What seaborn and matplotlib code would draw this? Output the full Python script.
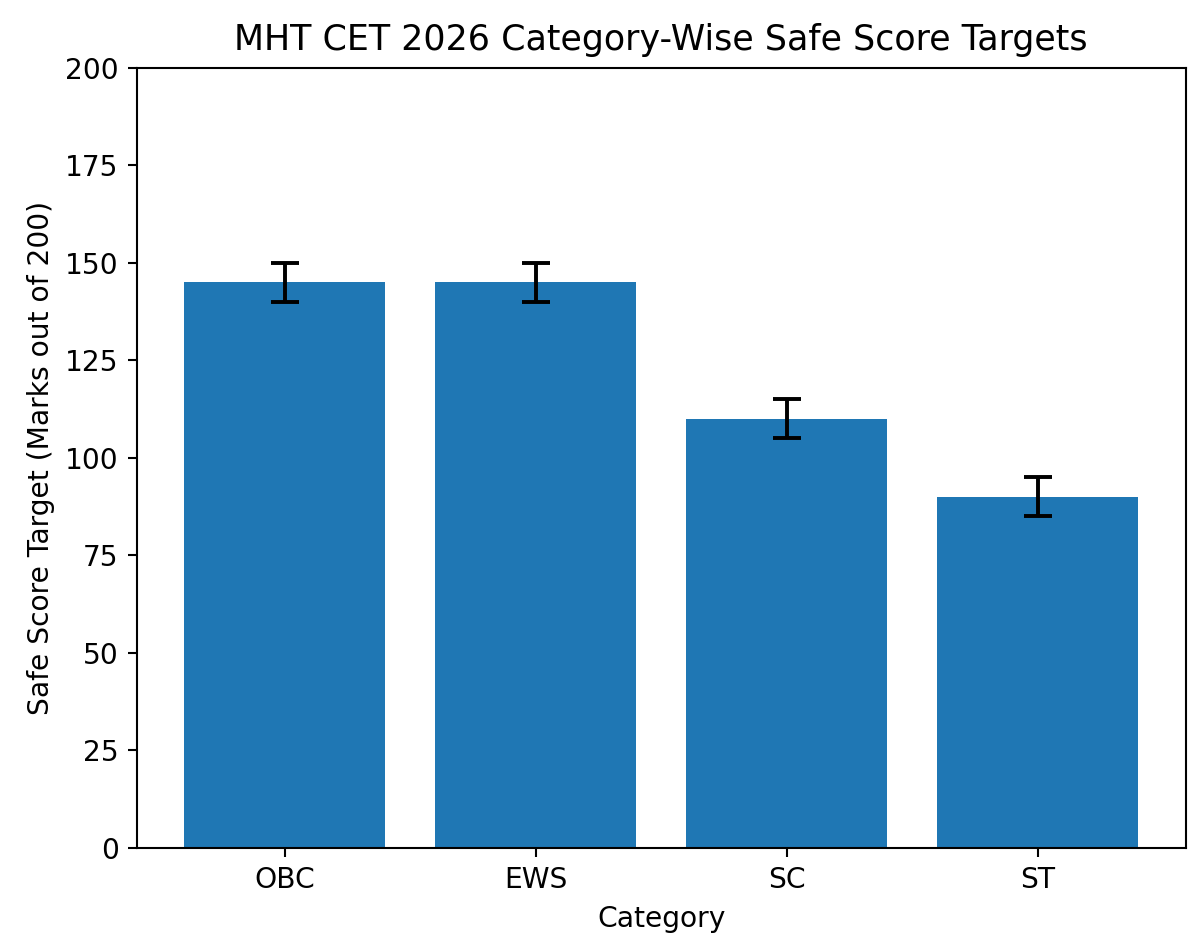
import matplotlib
matplotlib.use("Agg")
import matplotlib.pyplot as plt
import seaborn as sns
import pandas as pd

categories = ["OBC", "EWS", "SC", "ST"]
safe_scores = [145, 145, 110, 90]
score_errors = [5, 5, 5, 5]

df = pd.DataFrame({"Category": categories, "Score": safe_scores})

fig = plt.figure(figsize=(6.4, 5.0347), dpi=187.5)
ax = fig.add_axes([0.114, 0.1017, 0.874, 0.8263])
sns.barplot(data=df, x="Category", y="Score", color="#1f77b4", saturation=1,
            width=0.8, ax=ax, errorbar=None)
ax.errorbar(range(len(categories)), safe_scores, yerr=score_errors, fmt="none",
            ecolor="black", capsize=5.5, elinewidth=1.5, capthick=1.5)
ax.set_ylim(0, 200)
ax.set_xlim(-0.59, 3.59)
ax.set_title("MHT CET 2026 Category-Wise Safe Score Targets", fontsize=13.4, pad=7)
ax.set_xlabel("Category", fontsize=10.8)
ax.set_ylabel("Safe Score Target (Marks out of 200)", fontsize=10.8)
ax.tick_params(labelsize=10.8)
fig.savefig("out.png", dpi=187.5)
